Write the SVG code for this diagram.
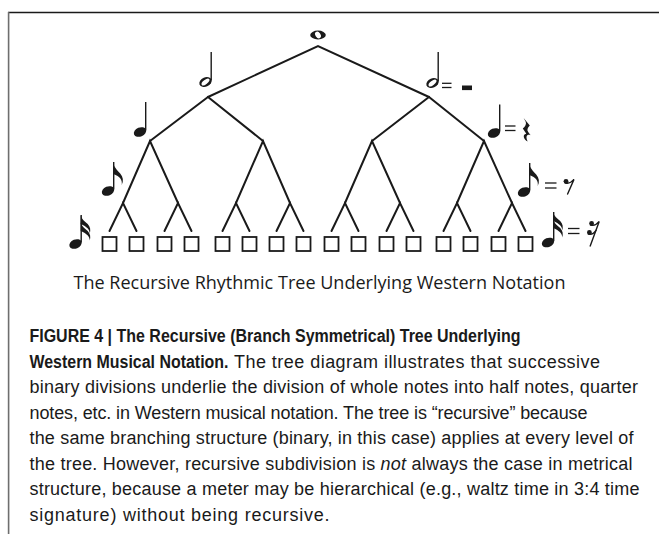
<svg xmlns="http://www.w3.org/2000/svg" xmlns:xlink="http://www.w3.org/1999/xlink" width="659" height="534" viewBox="0 0 659 534">
  <style>
    .frame-top { stroke: #1a1a1a; stroke-width: 1.4; }
    .frame-left { stroke: #6e6e6e; stroke-width: 1.6; }
    .branch { stroke: #1a1a1a; stroke-width: 2; stroke-linecap: round; fill: none; }
    .leaf { fill: #ffffff; stroke: #1a1a1a; stroke-width: 1.8; }
    .ink { fill: #1a1a1a; }
    .stem { stroke: #1a1a1a; stroke-width: 1.4; }
    .eq { stroke: #1a1a1a; stroke-width: 1.3; }
    .rest-line { stroke: #1a1a1a; stroke-width: 1.4; fill: none; stroke-linecap: round; }
    .caption { font-family: "Open Sans", "Liberation Sans", sans-serif; font-size: 18px; fill: #1a1a1a; }
    .body { font-family: "Liberation Sans", Arial, sans-serif; font-size: 18px; fill: #1a1a1a; }
    .bold { font-weight: bold; }
  </style>
  <defs>
    <ellipse id="head" rx="6.4" ry="4.5" transform="rotate(-22)" class="ink"/>
    <g id="halfhead" class="ink">
      <ellipse rx="6.4" ry="4.6" transform="rotate(-22)"/>
      <ellipse rx="4.7" ry="2.1" transform="rotate(-38)" fill="#ffffff"/>
    </g>
    <path id="flag8" class="ink" d="M0,0 C0.5,5 4,8 7,11.5 C10,15 10.5,19 8.5,23 C9.3,18 7,14.5 0,12 Z"/>
    <path id="flag16" class="ink" d="M0,0 C0.5,4 4,6 7,9 C9.6,12 10.2,15 9,18.5 C9.2,14.8 6.2,11.6 0,9 Z"/>
  </defs>

  <!-- frame -->
  <line class="frame-top" x1="8" y1="12.5" x2="659" y2="12.5"/>
  <line class="frame-left" x1="8.6" y1="12" x2="8.6" y2="534"/>

  <!-- tree branches -->
  <g id="connectors" class="branch">
    <path d="M208,97 L318,46 L429,97"/>
    <path d="M150,141 L208,97 L263,141"/>
    <path d="M372,141 L429,97 L484,141"/>
    <path d="M123,203 L150,141 L178,203"/>
    <path d="M236,203 L263,141 L290,203"/>
    <path d="M345,203 L372,141 L400,203"/>
    <path d="M457,203 L484,141 L512,203"/>
    <path d="M109.5,231 L123,203 L136.5,231"/>
    <path d="M164.5,231 L178,203 L191.5,231"/>
    <path d="M222.5,231 L236,203 L249.5,231"/>
    <path d="M276.5,231 L290,203 L303.5,231"/>
    <path d="M331.5,231 L345,203 L358.5,231"/>
    <path d="M386.5,231 L400,203 L413.5,231"/>
    <path d="M443.5,231 L457,203 L470.5,231"/>
    <path d="M498.5,231 L512,203 L525.5,231"/>
  </g>

  <!-- leaves: sixteenth-note slots -->
  <g id="leaves">
    <rect id="leaf-1" class="leaf" x="102.5" y="237" width="14" height="14"/>
    <rect id="leaf-2" class="leaf" x="129.5" y="237" width="14" height="14"/>
    <rect id="leaf-3" class="leaf" x="157.5" y="237" width="14" height="14"/>
    <rect id="leaf-4" class="leaf" x="184.5" y="237" width="14" height="14"/>
    <rect id="leaf-5" class="leaf" x="215.5" y="237" width="14" height="14"/>
    <rect id="leaf-6" class="leaf" x="242.5" y="237" width="14" height="14"/>
    <rect id="leaf-7" class="leaf" x="269.5" y="237" width="14" height="14"/>
    <rect id="leaf-8" class="leaf" x="296.5" y="237" width="14" height="14"/>
    <rect id="leaf-9" class="leaf" x="324.5" y="237" width="14" height="14"/>
    <rect id="leaf-10" class="leaf" x="351.5" y="237" width="14" height="14"/>
    <rect id="leaf-11" class="leaf" x="379.5" y="237" width="14" height="14"/>
    <rect id="leaf-12" class="leaf" x="406.5" y="237" width="14" height="14"/>
    <rect id="leaf-13" class="leaf" x="436.5" y="237" width="14" height="14"/>
    <rect id="leaf-14" class="leaf" x="463.5" y="237" width="14" height="14"/>
    <rect id="leaf-15" class="leaf" x="491.5" y="237" width="14" height="14"/>
    <rect id="leaf-16" class="leaf" x="518.5" y="237" width="14" height="14"/>
  </g>

  <!-- whole note at the root -->
  <g id="whole-note">
    <ellipse cx="318" cy="35" rx="7.8" ry="4.4" class="ink"/>
    <ellipse cx="318" cy="35" rx="3.6" ry="2.5" transform="rotate(55 318 35)" fill="#ffffff"/>
  </g>

  <!-- half notes -->
  <g id="half-left">
    <use xlink:href="#halfhead" x="205.5" y="82"/>
    <line class="stem" x1="211.2" y1="52" x2="211.2" y2="80.5"/>
  </g>
  <g id="half-right">
    <use xlink:href="#halfhead" x="432.5" y="83"/>
    <line class="stem" x1="438.2" y1="52" x2="438.2" y2="81.5"/>
    <line class="eq" x1="442" y1="83.3" x2="451.5" y2="83.3"/>
    <line class="eq" x1="442" y1="87.5" x2="451.5" y2="87.5"/>
    <rect class="ink" x="462" y="85.5" width="10" height="4.6"/>
  </g>

  <!-- quarter notes -->
  <g id="quarter-left">
    <use xlink:href="#head" x="140" y="132"/>
    <line class="stem" x1="145.7" y1="102" x2="145.7" y2="130.5"/>
  </g>
  <g id="quarter-right">
    <use xlink:href="#head" x="494" y="133"/>
    <line class="stem" x1="499.7" y1="104.5" x2="499.7" y2="131.5"/>
    <line class="eq" x1="505" y1="126" x2="515.5" y2="126"/>
    <line class="eq" x1="505" y1="130.5" x2="515.5" y2="130.5"/>
    <path class="ink" d="M523.6,118 L529.8,125.4 C527.4,127.8 526.7,129.9 528.2,131.9 L530.6,135.2 C527.2,133.9 525.1,135.9 527.7,141.6 C523.9,139.6 521.8,134.6 526.3,133.7 L522.8,128.6 C525.3,126.5 526.6,124 525.7,121.7 Z"/>
  </g>

  <!-- eighth notes -->
  <g id="eighth-left">
    <use xlink:href="#head" x="108" y="191"/>
    <line class="stem" x1="113.7" y1="162" x2="113.7" y2="189.5"/>
    <use xlink:href="#flag8" x="113.2" y="162"/>
  </g>
  <g id="eighth-right">
    <use xlink:href="#head" x="524" y="192"/>
    <line class="stem" x1="529.7" y1="163" x2="529.7" y2="190.5"/>
    <use xlink:href="#flag8" x="529.2" y="163"/>
    <line class="eq" x1="545" y1="183" x2="556.5" y2="183"/>
    <line class="eq" x1="545" y1="188" x2="556.5" y2="188"/>
    <circle class="ink" cx="566" cy="181.3" r="2.4"/>
    <path class="rest-line" d="M565,182.8 Q569.5,184.6 574,179.4 L567.6,194"/>
  </g>

  <!-- sixteenth notes -->
  <g id="sixteenth-left">
    <use xlink:href="#head" x="75.5" y="244"/>
    <line class="stem" x1="81.2" y1="215" x2="81.2" y2="242.5"/>
    <use xlink:href="#flag16" x="80.7" y="215"/>
    <use xlink:href="#flag16" x="80.7" y="222"/>
  </g>
  <g id="sixteenth-right">
    <use xlink:href="#head" x="548" y="242.5"/>
    <line class="stem" x1="553.7" y1="212" x2="553.7" y2="241"/>
    <use xlink:href="#flag16" x="553.2" y="212"/>
    <use xlink:href="#flag16" x="553.2" y="219"/>
    <line class="eq" x1="568" y1="228.5" x2="579.5" y2="228.5"/>
    <line class="eq" x1="568" y1="233.5" x2="579.5" y2="233.5"/>
    <circle class="ink" cx="591.6" cy="223.4" r="2.4"/>
    <circle class="ink" cx="589.4" cy="232.4" r="2.4"/>
    <path class="rest-line" d="M590.6,225 Q595,226.6 599.2,221.4 L590.2,246"/>
    <path class="rest-line" d="M588.4,234 Q592.6,235.4 596,230.4"/>
  </g>

  <!-- diagram title -->
  <text class="caption" x="73.5" y="289" textLength="492" lengthAdjust="spacingAndGlyphs">The Recursive Rhythmic Tree Underlying Western Notation</text>

  <!-- figure legend -->
  <g id="legend" class="body">
    <text class="bold" x="29.5" y="342" textLength="491" lengthAdjust="spacingAndGlyphs">FIGURE 4 | The Recursive (Branch Symmetrical) Tree Underlying</text>
    <text class="bold" x="29.5" y="367.5" textLength="199" lengthAdjust="spacingAndGlyphs">Western Musical Notation.</text>
    <text x="234" y="367.5" textLength="366" lengthAdjust="spacing">The tree diagram illustrates that successive</text>
    <text x="29.5" y="393" textLength="608.5" lengthAdjust="spacing">binary divisions underlie the division of whole notes into half notes, quarter</text>
    <text x="29.5" y="418.5" textLength="558" lengthAdjust="spacing">notes, etc. in Western musical notation. The tree is “recursive” because</text>
    <text x="29.5" y="444" textLength="604" lengthAdjust="spacing">the same branching structure (binary, in this case) applies at every level of</text>
    <text x="29.5" y="469.5" textLength="603" lengthAdjust="spacing">the tree. However, recursive subdivision is <tspan font-style="italic">not</tspan> always the case in metrical</text>
    <text x="29.5" y="495" textLength="610" lengthAdjust="spacing">structure, because a meter may be hierarchical (e.g., waltz time in 3:4 time</text>
    <text x="29.5" y="520.5" textLength="300" lengthAdjust="spacing">signature) without being recursive.</text>
  </g>
</svg>
